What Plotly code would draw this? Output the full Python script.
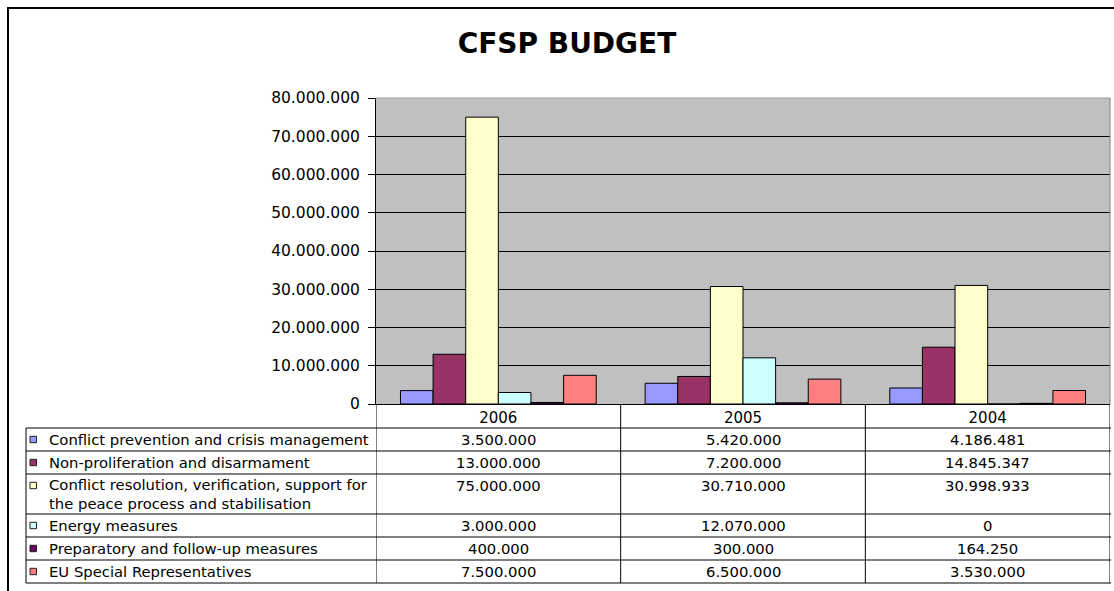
import plotly.graph_objects as go

W, H = 1114, 591

years = ["2006", "2005", "2004"]
series_names = [
    "Conflict prevention and crisis management",
    "Non-proliferation and disarmament",
    "Conflict resolution, verification, support for the peace process and stabilisation",
    "Energy measures",
    "Preparatory and follow-up measures",
    "EU Special Representatives",
]
conflict_prevention = [3500000, 5420000, 4186481]
non_proliferation = [13000000, 7200000, 14845347]
conflict_resolution = [75000000, 30710000, 30998933]
energy = [3000000, 12070000, 0]
preparatory = [400000, 300000, 164250]
eu_special = [7500000, 6500000, 3530000]
series_values = [conflict_prevention, non_proliferation, conflict_resolution,
                 energy, preparatory, eu_special]
colors = ["#9999FF", "#993366", "#FFFFCC", "#CCFFFF", "#660066", "#FF8080"]
y_ticks = [0, 10000000, 20000000, 30000000, 40000000, 50000000, 60000000, 70000000, 80000000]

FONT = "DejaVu Sans"

# layout geometry (pixels)
PL, PR, PT, PB = 376, 1110, 98, 404
HEADER_H = 24
TL = 26            # table left edge
TEXT_X = 47        # label text start
ROW_H = 23
EXTRA_LINE = 17


def px_x(p):
    return p / W


def px_y(p):
    return 1 - p / H


def fmt(v):
    return f"{v:,}".replace(",", ".")


fig = go.Figure()
for name, vals, col in zip(series_names, series_values, colors):
    fig.add_trace(go.Bar(
        x=years, y=vals, name=name,
        marker=dict(color=col, line=dict(color="black", width=1)),
    ))

# ---- data table drawn under the chart ----
display_labels = []
for name in series_names:
    if name.startswith("Conflict resolution"):
        display_labels.append("Conflict resolution, verification, support for<br>the peace process and stabilisation")
    else:
        display_labels.append(name)

shapes = []
annotations = []
row_top = PB + HEADER_H
row_tops = []
for lab, vals, col in zip(display_labels, series_values, colors):
    nlines = lab.count("<br>") + 1
    rh = ROW_H + EXTRA_LINE * (nlines - 1)
    row_tops.append(row_top)
    first_c = row_top + 11.5
    # legend key
    shapes.append(dict(type="rect", xref="paper", yref="paper",
                       x0=px_x(30), x1=px_x(36.5), y0=px_y(first_c + 3.2), y1=px_y(first_c - 3.2),
                       fillcolor=col, line=dict(color="#202020", width=1)))
    annotations.append(dict(text=lab, xref="paper", yref="paper", x=px_x(TEXT_X),
                            y=px_y(first_c + (nlines - 1) * 8.75), xanchor="left",
                            yanchor="middle", align="left", showarrow=False,
                            font=dict(family=FONT, size=14.8, color="black")))
    for i, v in enumerate(vals):
        # category axis: annotation x is the category index
        annotations.append(dict(text=fmt(v), xref="x", yref="paper", x=i,
                                y=px_y(first_c), xanchor="center", yanchor="middle",
                                showarrow=False,
                                font=dict(family=FONT, size=14.8, color="black")))
    row_top += rh
table_bottom = row_top

# horizontal table lines
for t in row_tops + [table_bottom]:
    shapes.append(dict(type="line", xref="paper", yref="paper", x0=px_x(TL), x1=px_x(PR + 1),
                       y0=px_y(t), y1=px_y(t), line=dict(color="black", width=1)))
# vertical table lines
shapes.append(dict(type="line", xref="paper", yref="paper", x0=px_x(TL), x1=px_x(TL),
                   y0=px_y(PB + HEADER_H), y1=px_y(table_bottom), line=dict(color="black", width=1)))
for b in [i - 0.5 for i in range(len(years) + 1)]:
    shapes.append(dict(type="line", xref="x", yref="paper", x0=b, x1=b,
                       y0=px_y(PB), y1=px_y(table_bottom), line=dict(color="black", width=1)))

# plot-area border (top / right)
shapes.append(dict(type="line", xref="x domain", yref="y domain", x0=0, x1=1, y0=1, y1=1,
                   line=dict(color="#A0A0A0", width=1)))
shapes.append(dict(type="line", xref="x domain", yref="y domain", x0=1, x1=1, y0=0, y1=1,
                   line=dict(color="#808080", width=1)))
# outer chart frame
shapes.append(dict(type="rect", xref="paper", yref="paper", x0=px_x(8), x1=1.05,
                   y0=-0.05, y1=px_y(8), line=dict(color="black", width=2)))

fig.update_layout(
    template="none",
    width=W, height=H,
    margin=dict(l=0, r=0, t=0, b=0, pad=0),
    paper_bgcolor="white",
    plot_bgcolor="#C0C0C0",
    barmode="group",
    bargap=0.2,
    bargroupgap=0,
    showlegend=False,
    hovermode=False,
    separators=",.",
    font=dict(family=FONT, color="black"),
    title=dict(text="<b>CFSP BUDGET</b>", x=px_x(567), xanchor="center", xref="paper",
               y=px_y(43), yanchor="middle", yref="paper",
               font=dict(family=FONT, size=28, color="black")),
    xaxis=dict(
        domain=[px_x(PL), px_x(PR)],
        type="category",
        range=[-0.5, len(years) - 0.5],
        automargin=False,
        showline=True, linecolor="black", linewidth=1,
        ticks="",
        tickfont=dict(family=FONT, size=15, color="black"),
        showgrid=False, zeroline=False,
    ),
    yaxis=dict(
        domain=[px_y(PB), px_y(PT)],
        range=[0, 80000000],
        automargin=False,
        tickvals=y_ticks,
        tickformat=",.0f",
        showline=True, linecolor="black", linewidth=1,
        ticks="outside", ticklen=7, tickcolor="black", tickwidth=1,
        ticklabelstandoff=5,
        showgrid=True, gridcolor="black", gridwidth=1,
        zeroline=False,
        tickfont=dict(family=FONT, size=15.5, color="black"),
    ),
    shapes=shapes,
    annotations=annotations,
)

fig.write_html("out.html", config={"displayModeBar": False},
               post_script="document.body.style.margin='0px';")
